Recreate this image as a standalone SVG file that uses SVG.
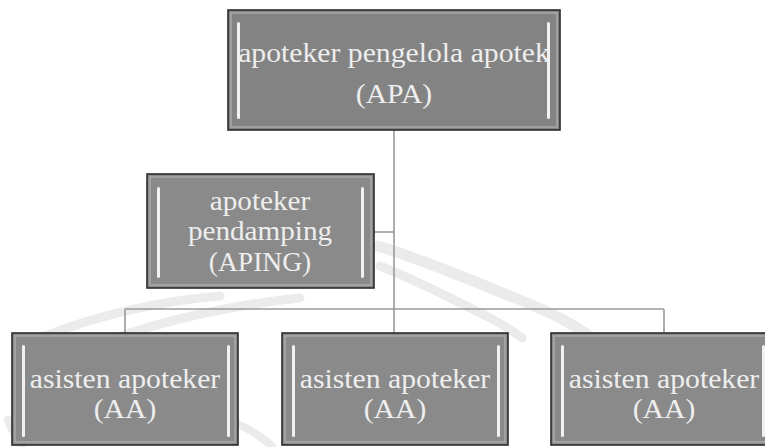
<svg xmlns="http://www.w3.org/2000/svg" width="765" height="447" viewBox="0 0 765 447">
  <style>
    .box { fill: #8a8a8a; stroke: #2b2b2b; stroke-width: 1.6; }
    .bevel { fill: none; stroke: #a9a9a9; stroke-width: 1.5; }
    .bar { fill: #f1f1f1; }
    .lbl { font-family: "Liberation Serif", "Times New Roman", serif; font-size: 27px; fill: #eeeeee; text-anchor: middle; }
    .conn { stroke: #9a9a9a; stroke-width: 1.6; fill: none; }
    .wm { stroke: #ebebeb; fill: none; stroke-linecap: round; }
  </style>
  <rect width="765" height="447" fill="#ffffff"/>

  <g id="watermark">
    <path class="wm" stroke-width="11" d="M378,246 C430,262 470,280 520,300 C555,314 575,325 592,338"/>
    <path class="wm" stroke-width="9" d="M380,266 C420,282 455,300 490,318 C505,326 515,332 522,338"/>
    <path class="wm" stroke-width="9" d="M40,338 C90,318 150,302 220,296"/>
    <path class="wm" stroke-width="9" d="M110,340 C170,318 240,304 300,298"/>
    <path class="wm" stroke-width="8" d="M8,420 C12,430 16,438 22,446"/>
    <path class="wm" stroke-width="8" d="M240,425 C255,432 265,440 272,446"/>
  </g>

  <g id="connectors">
    <line class="conn" x1="394" y1="130" x2="394" y2="333"/>
    <line class="conn" x1="374" y1="232" x2="394" y2="232"/>
    <line class="conn" x1="125" y1="309" x2="664" y2="309"/>
    <line class="conn" x1="125" y1="309" x2="125" y2="333"/>
    <line class="conn" x1="664" y1="309" x2="664" y2="333"/>
  </g>

  <g id="apa">
    <rect class="box" x="228" y="10" width="332" height="120" style="fill:#838383"/>
    <rect class="bevel" x="231" y="13" width="326" height="114"/>
    <rect class="bar" x="237" y="22" width="3" height="97" rx="1.5"/>
    <rect class="bar" x="547" y="22" width="3" height="97" rx="1.5"/>
    <text class="lbl" transform="translate(394,62) scale(1.1,1)">apoteker pengelola apotek</text>
    <text class="lbl" transform="translate(394,103) scale(1.1,1)">(APA)</text>
  </g>

  <g id="aping">
    <rect class="box" x="147" y="174" width="227" height="114"/>
    <rect class="bevel" x="150" y="177" width="221" height="108"/>
    <rect class="bar" x="157" y="187" width="3" height="91" rx="1.5"/>
    <rect class="bar" x="361" y="187" width="3" height="91" rx="1.5"/>
    <text class="lbl" transform="translate(260,210) scale(1.08,1)">apoteker</text>
    <text class="lbl" transform="translate(260,240) scale(1.08,1)">pendamping</text>
    <text class="lbl" transform="translate(260,271) scale(1.02,1)">(APING)</text>
  </g>

  <g id="aa1">
    <rect class="box" x="12" y="333" width="226" height="112"/>
    <rect class="bevel" x="15" y="336" width="220" height="106"/>
    <rect class="bar" x="22" y="345" width="3" height="92" rx="1.5"/>
    <rect class="bar" x="227" y="345" width="3" height="92" rx="1.5"/>
    <text class="lbl" transform="translate(125,388) scale(1.1,1)">asisten apoteker</text>
    <text class="lbl" transform="translate(125,418) scale(1.1,1)">(AA)</text>
  </g>

  <g id="aa2">
    <rect class="box" x="282" y="333" width="226" height="112"/>
    <rect class="bevel" x="285" y="336" width="220" height="106"/>
    <rect class="bar" x="292" y="345" width="3" height="92" rx="1.5"/>
    <rect class="bar" x="497" y="345" width="3" height="92" rx="1.5"/>
    <text class="lbl" transform="translate(395,388) scale(1.1,1)">asisten apoteker</text>
    <text class="lbl" transform="translate(395,418) scale(1.1,1)">(AA)</text>
  </g>

  <g id="aa3">
    <rect class="box" x="551" y="333" width="226" height="112"/>
    <rect class="bevel" x="554" y="336" width="220" height="106"/>
    <rect class="bar" x="561" y="345" width="3" height="92" rx="1.5"/>
    <rect class="bar" x="762" y="345" width="3" height="92" rx="1.5"/>
    <text class="lbl" transform="translate(664,388) scale(1.1,1)">asisten apoteker</text>
    <text class="lbl" transform="translate(664,418) scale(1.1,1)">(AA)</text>
  </g>
</svg>
